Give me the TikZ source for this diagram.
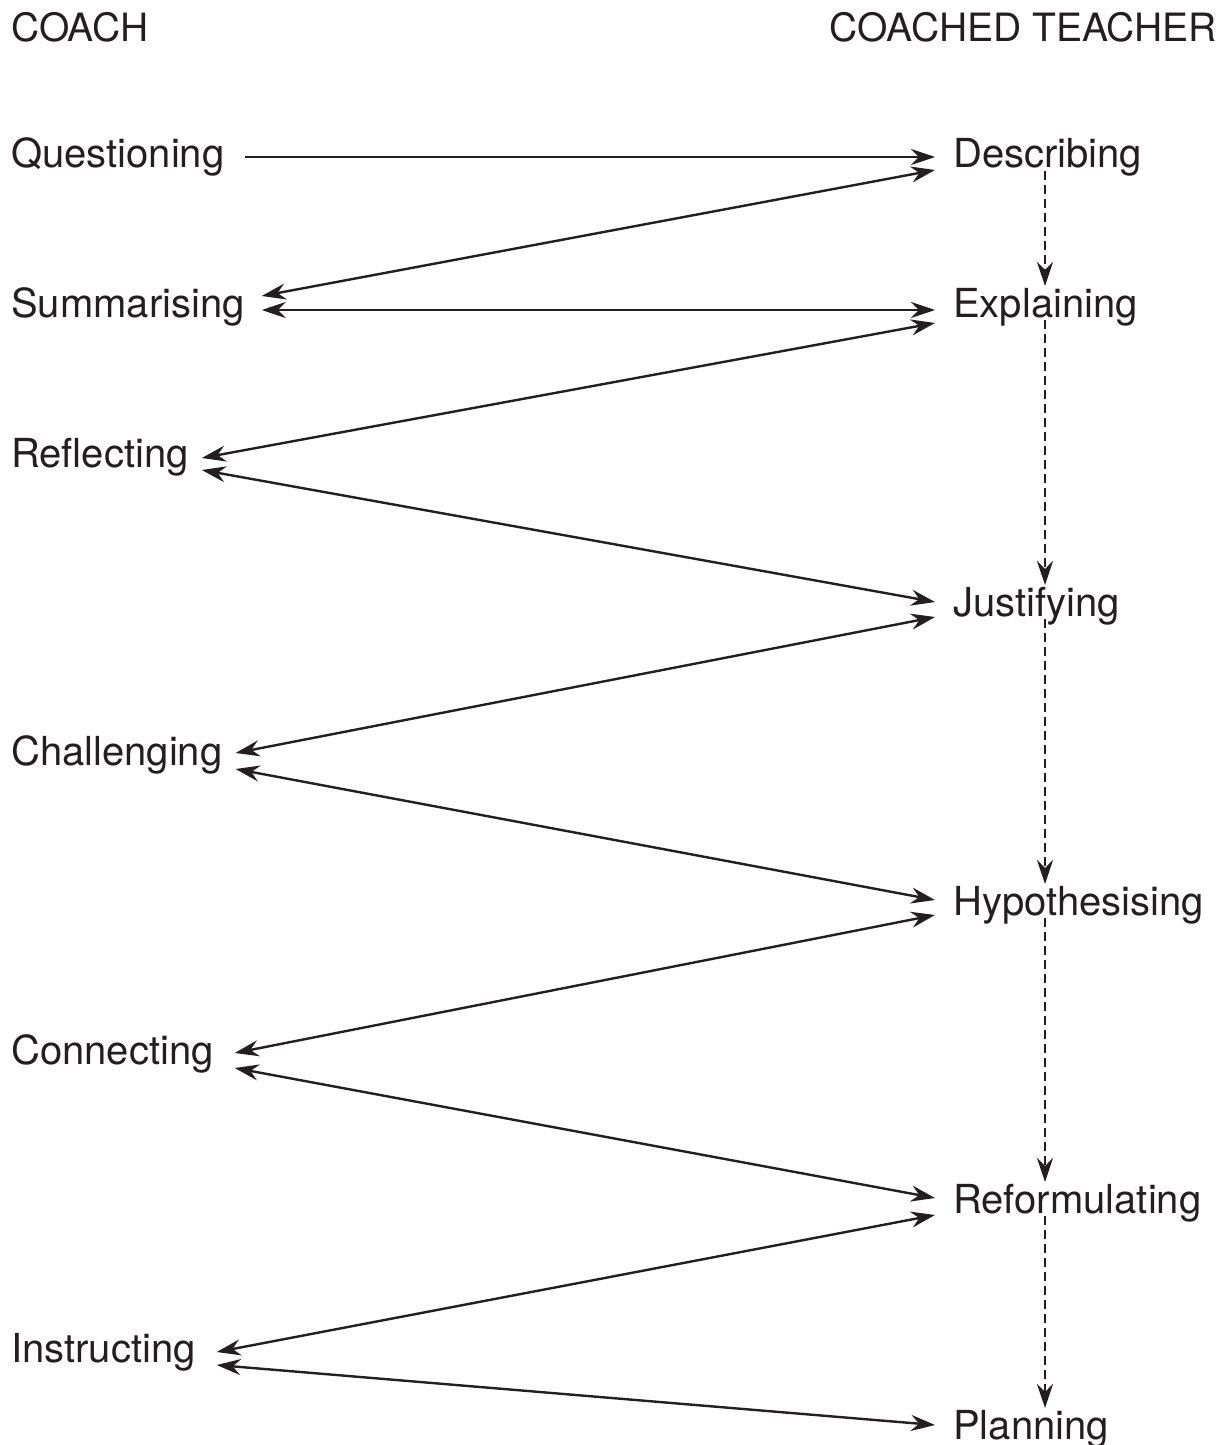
\documentclass[tikz,border=0pt]{standalone}
\usepackage{fontspec}
\setmainfont{TeX Gyre Heros}
\usetikzlibrary{arrows.meta}
\definecolor{inkblack}{HTML}{231F20}

\begin{document}
\begin{tikzpicture}[
  x=0.5pt, y=-0.5pt,
  line width=1.2pt,
  every node/.style={
    inner sep=0pt,
    text=inkblack,
    font=\fontsize{20}{24}\selectfont
  },
  head/.style={font=\fontsize{19.5}{24}\selectfont},
  tip/.tip={Stealth[length=12pt,width=8pt,inset=4pt]},
  oneway/.style={draw=inkblack, -tip},
  twoway/.style={draw=inkblack, tip-tip},
  flow/.style={draw=inkblack, line width=1.2pt, dash pattern=on 4.5pt off 2.5pt, -tip}
]
  \useasboundingbox (0,0) rectangle (1230,1445);

  % column headings
  \node[head, anchor=base west] (coach) at (10,42) {COACH};
  \node[head, anchor=base east] (teacher) at (1218,42) {COACHED TEACHER};

  % coach moves
  \node[anchor=base west] (quest) at (10,168) {Questioning};
  \node[anchor=base west] (summ) at (10,317) {Summarising};
  \node[anchor=base west] (refl) at (10,467) {Reflecting};
  \node[anchor=base west] (chal) at (10,765) {Challenging};
  \node[anchor=base west] (conn) at (10,1064) {Connecting};
  \node[anchor=base west] (instr) at (10,1362) {Instructing};

  % teacher moves
  \node[anchor=base west] (desc) at (952,168) {Describing};
  \node[anchor=base west] (expl) at (952,317) {Explaining};
  \node[anchor=base west] (just) at (952,616) {Justifying};
  \node[anchor=base west] (hypo) at (952,915) {Hypothesising};
  \node[anchor=base west] (reform) at (952,1213) {Reformulating};
  \node[anchor=base west] (plan) at (952,1439) {Planning};

  \draw[oneway] ([shift={(19,-11)}]quest.base east) -- ([shift={(-17,-11)}]desc.base west);
  \draw[twoway] ([shift={(-17,2)}]desc.base west) -- ([shift={(16,-21)}]summ.base east);
  \draw[twoway] ([shift={(16,-7)}]summ.base east) -- ([shift={(-17,-7)}]expl.base west);
  \draw[twoway] ([shift={(-17,6)}]expl.base west) -- ([shift={(12,-9)}]refl.base east);
  \draw[twoway] ([shift={(12,3)}]refl.base east) -- ([shift={(-17,-14)}]just.base west);
  \draw[twoway] ([shift={(-17,1)}]just.base west) -- ([shift={(12,-12)}]chal.base east);
  \draw[twoway] ([shift={(12,4)}]chal.base east) -- ([shift={(-17,-15)}]hypo.base west);
  \draw[twoway] ([shift={(-17,0)}]hypo.base west) -- ([shift={(20,-11)}]conn.base east);
  \draw[twoway] ([shift={(20,4)}]conn.base east) -- ([shift={(-17,-15)}]reform.base west);
  \draw[twoway] ([shift={(-17,2)}]reform.base west) -- ([shift={(20,-10)}]instr.base east);
  \draw[twoway] ([shift={(20,3)}]instr.base east) -- ([shift={(-17,-14)}]plan.base west);

  % teacher sequence
  \foreach \a/\b in {desc/expl, expl/just, just/hypo, hypo/reform, reform/plan}
    \draw[flow] ([shift={(93,3)}]\a.base west) -- ([shift={(93,-31)}]\b.base west);
\end{tikzpicture}
\end{document}
